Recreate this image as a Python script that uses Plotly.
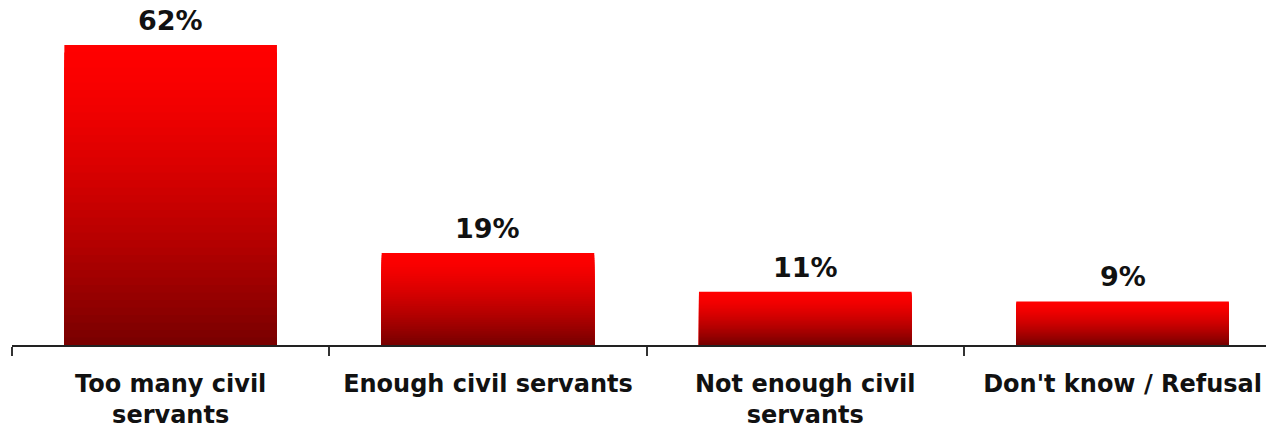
import plotly.graph_objects as go

categories = ["Too many civil servants", "Enough civil servants",
              "Not enough civil servants", "Don't know / Refusal"]
tick_labels = ["Too many civil<br>servants", "Enough civil servants",
               "Not enough civil<br>servants", "Don't know / Refusal"]
values = [62, 19, 11, 9]
value_labels = ["62%", "19%", "11%", "9%"]

FONT = "DejaVu Sans"
N = 40  # gradient layers (style only)

fig = go.Figure()
top_rgb = (255, 0, 0)
bot_rgb = (122, 0, 0)
for k in range(N):
    frac = 1 - k / N  # height fraction of this layer
    t = (k / (N - 1)) ** 1.4  # colour position from top
    r = round(top_rgb[0] + (bot_rgb[0] - top_rgb[0]) * t)
    fig.add_trace(go.Bar(
        x=categories,
        y=[v * frac for v in values],
        marker=dict(color=f"rgb({r},0,0)", line=dict(width=0)),
        width=0.67,
        hoverinfo="skip",
        showlegend=False,
    ))

for c, v, lab in zip(categories, values, value_labels):
    fig.add_annotation(x=c, y=v, text=f"<b>{lab}</b>", showarrow=False,
                       yanchor="bottom", yshift=7,
                       font=dict(family=FONT, size=27, color="#111111"))

fig.update_layout(
    barmode="overlay",
    width=1266, height=431,
    margin=dict(l=12, r=0, t=0, b=86, autoexpand=False),
    plot_bgcolor="white", paper_bgcolor="white",
    bargap=0.33,
    xaxis=dict(
        range=[-0.5, 3.452],
        automargin=False,
        tickmode="array", tickvals=categories,
        ticktext=[f"<b>{t}</b>" for t in tick_labels],
        tickson="boundaries", ticks="outside", ticklen=9,
        tickcolor="#333333", tickwidth=1.5,
        showline=True, linecolor="#222222", linewidth=1.5,
        showgrid=False,
        tickfont=dict(family=FONT, size=24, color="#111111"),
        ticklabelstandoff=16,
    ),
    yaxis=dict(range=[0, 71.3], visible=False, showgrid=False, automargin=False),
)

fig.write_html("out.html", config={"displayModeBar": False},
               post_script="document.body.style.margin='0';document.body.style.overflow='hidden';")
